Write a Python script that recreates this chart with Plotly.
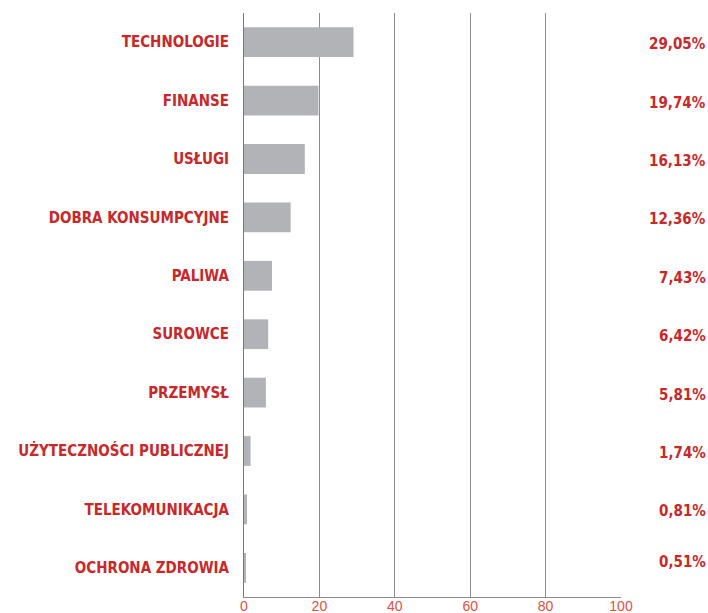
import plotly.graph_objects as go

categories = ["TECHNOLOGIE", "FINANSE", "USŁUGI", "DOBRA KONSUMPCYJNE", "PALIWA",
              "SUROWCE", "PRZEMYSŁ", "UŻYTECZNOŚCI PUBLICZNEJ", "TELEKOMUNIKACJA",
              "OCHRONA ZDROWIA"]
values = [29.05, 19.74, 16.13, 12.36, 7.43, 6.42, 5.81, 1.74, 0.81, 0.51]
value_labels = ["29,05%", "19,74%", "16,13%", "12,36%", "7,43%", "6,42%", "5,81%",
                "1,74%", "0,81%", "0,51%"]
x_ticks = [0, 20, 40, 60, 80, 100]

RED = "#c8282a"
TICK_RED = "#e0503f"
GRID = "#8c8c8c"
COND = "DejaVu Sans Condensed, sans-serif"

fig = go.Figure()
fig.add_trace(go.Bar(
    x=values, y=categories, orientation="h",
    marker=dict(color="#b1b3b6", line=dict(width=0)),
    width=0.51, hoverinfo="skip",
))

for i, (cat, lab) in enumerate(zip(categories, value_labels)):
    fig.add_annotation(
        x=1.2308, xref="paper", y=cat, yref="y",
        text=lab, showarrow=False, xanchor="right", yanchor="middle",
        yshift=6 if i == len(categories) - 1 else -2,
        font=dict(family=COND, size=15, color=RED, weight="bold"),
    )

fig.update_layout(
    width=708, height=613,
    margin=dict(l=244, r=87, t=13, b=16, autoexpand=False),
    plot_bgcolor="white", paper_bgcolor="white",
    showlegend=False,
    xaxis=dict(
        range=[0, 100], tickvals=x_ticks, ticktext=[str(v) for v in x_ticks],
        showgrid=True, gridcolor=GRID, gridwidth=1, automargin=False,
        zeroline=False, showline=True, linecolor=GRID, linewidth=1, mirror=False,
        ticks="", tickfont=dict(family="Liberation Sans, Arial, sans-serif", size=14, color=TICK_RED),
        ticklabelstandoff=-4, fixedrange=True,
    ),
    yaxis=dict(
        categoryorder="array", categoryarray=categories, autorange="reversed",
        showgrid=False, zeroline=False, showline=True, linecolor="#777777", linewidth=1,
        ticks="", ticklabelstandoff=11, automargin=False,
        tickfont=dict(family=COND, size=15, color=RED, weight="bold"),
        fixedrange=True,
    ),
)

fig.write_html(
    "out.html",
    config={"displayModeBar": False},
    post_script="document.body.style.margin='0';document.body.style.overflow='hidden';",
)
